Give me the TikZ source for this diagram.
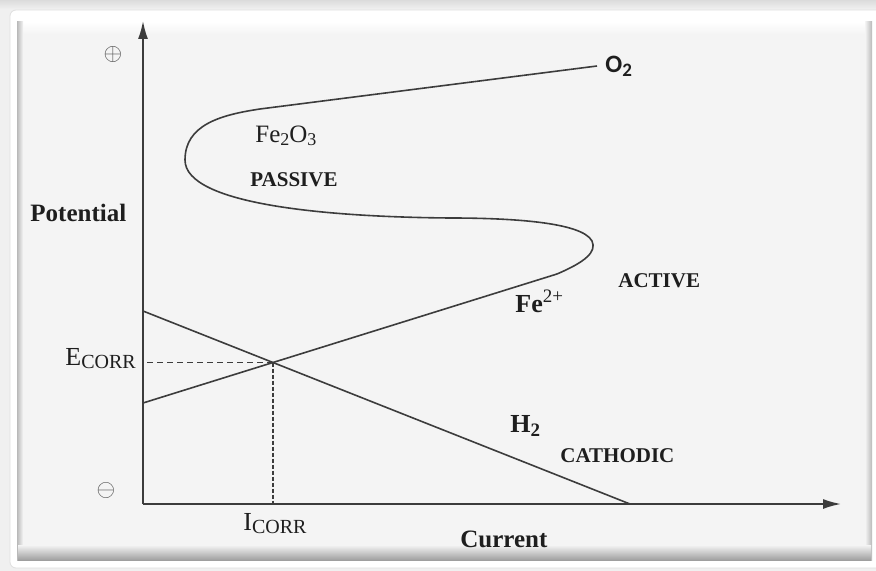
\documentclass[tikz,border=0pt]{standalone}
\usepackage{fontspec}
\setmainfont{Liberation Serif}
\newfontfamily\carlito{Carlito}
\usetikzlibrary{arrows.meta}
\definecolor{panel}{HTML}{F4F4F4}
\definecolor{ink}{HTML}{1E1E1E}
\definecolor{linec}{HTML}{3C3C3C}
\begin{document}
\begin{tikzpicture}[x=0.5pt,y=-0.5pt,
  axis/.style={draw=linec,line width=0.85pt},
  curve/.style={draw=linec,line width=0.8pt},
  lbl/.style={inner sep=0pt,anchor=base west,text=ink},
  bigcap/.style={lbl,font=\fontsize{10.5}{12}\selectfont\bfseries},
  sign/.style={text=gray!65!black,font=\fontsize{12}{13}\selectfont,inner sep=0pt},
  tip/.style={-{Latex[length=9pt,width=5pt]}}]
\useasboundingbox (0,0) rectangle (876,571);
% frame
\fill[gray!12] (0,0) rectangle (876,571);
\shade[top color=gray!28,bottom color=gray!10] (0,0) rectangle (876,10);
\fill[white,rounded corners=3pt] (10,10) rectangle (890,568);
\draw[gray!25,rounded corners=3pt] (10,10) rectangle (890,568);
\fill[panel] (18,22) rectangle (871,560);
\shade[top color=white,bottom color=panel] (22,22) rectangle (866,34);
\shade[left color=gray!55,right color=panel] (17,22) rectangle (23,560);
\shade[left color=panel,right color=gray!55] (865,22) rectangle (872,560);
\shade[top color=panel,bottom color=gray!75] (18,545) rectangle (871,560);
% axes
\coordinate (O) at (143,504);
\coordinate (Ytop) at (143,21);
\coordinate (Xend) at (841,504);
\draw[axis,tip] (O) -- (Ytop);
\draw[axis,tip] (O) -- (Xend);
% lines
\coordinate (A0) at (143,403);
\coordinate (A1) at (557,274);
\coordinate (C0) at (143,311);
\coordinate (C1) at (630,504);
\coordinate (X) at (intersection of A0--A1 and C0--C1);
\draw[curve] (A0) -- (A1);
\draw[curve] (C0) -- (C1);
\draw[linec,line width=0.7pt,dash pattern=on 3pt off 2pt] (X) -- (X -| O);
\draw[linec,line width=0.8pt,dash pattern=on 2pt off 1pt] (X) -- (X |- O);
% S curve
\coordinate (O2end) at (597,66);
\draw[curve] (A1) .. controls (585,262) and (597,252) .. (592,241)
  .. controls (582,222) and (510,218) .. (450,218)
  .. controls (330,217) and (185,205) .. (185,160)
  .. controls (185,125) and (220,115) .. (260,109)
  -- (O2end);
% labels
\node[sign] (plus) at (113,55) {$\oplus$};
\node[sign] (minus) at (106,490) {$\ominus$};
\node[lbl,font=\fontsize{12.5}{14}\selectfont\bfseries] (pot) at (30,222) {Potential};
\node[lbl,font=\fontsize{12.5}{14}\selectfont\bfseries] (cur) at (460,547) {Current};
\node[lbl,font=\fontsize{13}{14}\selectfont] (ecorr) at (65,365) {E\raisebox{-1.5pt}{\fontsize{10}{11}\selectfont CORR}};
\node[lbl,font=\fontsize{13}{14}\selectfont] (icorr) at (243,530) {I\raisebox{-1.5pt}{\fontsize{10}{11}\selectfont CORR}};
\node[lbl,font=\fontsize{12.5}{14}\selectfont] (fe2o3) at (255,143) {Fe\raisebox{-1.5pt}{\fontsize{9}{10}\selectfont 2}O\raisebox{-1.5pt}{\fontsize{9}{10}\selectfont 3}};
\node[bigcap] (passive) at (250,187) {PASSIVE};
\node[lbl,font=\fontsize{12.5}{14}\selectfont\carlito\bfseries] (o2) at (605,73) {O\raisebox{-2pt}{\fontsize{9.5}{10}\selectfont 2}};
\node[bigcap] (active) at (618,287) {ACTIVE};
\node[lbl,font=\fontsize{13}{14}\selectfont\bfseries] (fe2) at (515,313) {Fe\raisebox{5.5pt}{\fontsize{9.5}{10}\selectfont\mdseries 2+}};
\node[lbl,font=\fontsize{13}{14}\selectfont\bfseries] (h2) at (510,432) {H\raisebox{-2pt}{\fontsize{9.5}{10}\selectfont 2}};
\node[bigcap] (cath) at (560,462) {CATHODIC};
\end{tikzpicture}
\end{document}
